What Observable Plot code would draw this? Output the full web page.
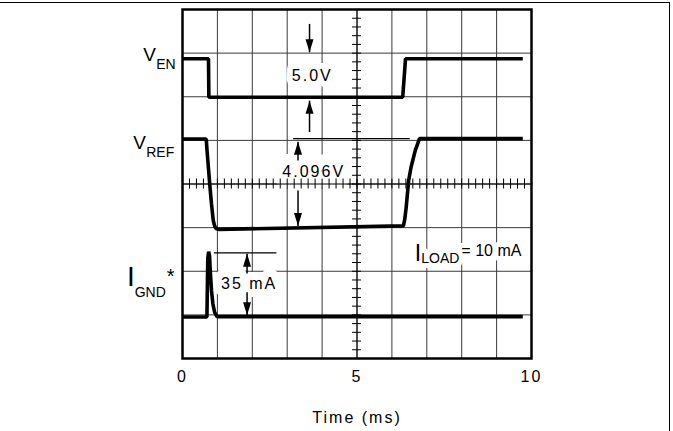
<!DOCTYPE html>
<html>
<head>
<meta charset="utf-8">
<script src="https://cdn.jsdelivr.net/npm/d3@7"></script>
<script src="https://cdn.jsdelivr.net/npm/@observablehq/plot@0.6"></script>
<style>
  html, body { margin: 0; padding: 0; background: #fff; overflow: hidden; }
  #wrap { position: relative; width: 673px; height: 431px; overflow: hidden; }
  #chart { position: absolute; left: 0; top: 0; z-index: 1; }
  #border { position: absolute; left: -5px; top: 2px; width: 674px; height: 500px; z-index: 2;
            border-top: 1px solid #000; border-right: 1px solid #000; pointer-events: none; }
</style>
</head>
<body>
<div id="wrap"><div id="chart"></div><div id="border"></div></div>
<script>
// ---- axis / graticule ----
const xTicks = [0, 5, 10];
const xGrid = [0, 1, 2, 3, 4, 5, 6, 7, 8, 9, 10];
const yGrid = [0, 1, 2, 3, 4, 5, 6, 7, 8];      // screen divisions, bottom = 0
const xLabel = "Time (ms)";

// ---- traces (time in ms, level in screen divisions) ----
const enTime  = [0, 0.745, 0.755, 6.31, 6.39, 9.75];
const enLevel = [6.87, 6.87, 5.99, 5.99, 6.87, 6.87];

const refTime  = [0, 0.68, 0.70, 0.74, 0.78, 0.83, 0.88, 0.92, 0.96, 1.04, 6.33, 6.37, 6.41, 6.48, 6.55, 6.67, 6.79, 9.75];
const refLevel = [5.03, 5.03, 4.8, 4.4, 4.0, 3.55, 3.17, 3.04, 2.98, 2.96, 3.04, 3.2, 3.47, 4.08, 4.39, 4.77, 5.04, 5.04];

const gndTime  = [0, 0.70, 0.715, 0.725, 0.75, 0.775, 0.80, 0.83, 0.87, 0.92, 0.99, 9.75];
const gndLevel = [0.95, 0.95, 1.8, 2.3, 2.45, 2.35, 1.95, 1.56, 1.26, 1.06, 0.96, 0.96];

// ---- trace labels ----
const mainLabel = ["V", "V", "I"];
const subLabel  = ["EN", "REF", "GND"];
const mainX = [-0.76, -1.05, -1.37];
const subX  = [-0.755, -1.04, -1.37];
const mainY = [6.83, 4.81, 1.67];
const subY  = [6.64, 4.61, 1.41];
const starText = ["*"];
const starX = [-0.34];
const starY = [1.74];

// ---- annotations ----
const noteText = ["5.0V", "4.096V", "35 mA"];
const noteX = [3.72, 3.76, 1.91];
const noteY = [6.37, 4.15, 1.60];

const arrowX    = [3.64, 3.64, 3.31, 3.31, 1.85, 1.85];
const arrowTail = [7.67, 5.19, 4.54, 3.85, 1.95, 1.52];
const arrowTip  = [7.02, 5.91, 4.97, 3.04, 2.40, 0.99];

const refLineX1 = [3.17, 0.90];
const refLineX2 = [6.51, 2.69];
const refLineY  = [5.04, 2.42];

const loadMain = ["I"];
const loadSub = ["LOAD"];
const loadRest = ["= 10 mA"];
const loadMainX = [6.84], loadMainY = [2.23];
const loadSubX = [6.84], loadSubY = [2.18];
const loadRestX = [7.99], loadRestY = [2.34];

// ---- helpers ----
const xMinor = d3.range(0, 50.5, 1).map(k => k / 5);
const yMinor = d3.range(0, 40.5, 1).map(k => k / 5);
const tightTexts = new Set([...mainLabel, ...subLabel, ...starText, ...loadMain, ...loadSub, ...loadRest]);

const headSymbol = {
  draw(ctx) {           // narrow filled arrowhead, tip at the origin, pointing up
    ctx.moveTo(0, 0);
    ctx.lineTo(-4, 13);
    ctx.lineTo(4, 13);
    ctx.closePath();
  }
};

const trace = (xs, ys) => Plot.line(xs, {
  x: d => d, y: (d, i) => ys[i],
  stroke: "black", strokeWidth: 3.6, strokeLinejoin: "miter", strokeLinecap: "butt"
});

const halo = {stroke: "white", strokeLinejoin: "round", paintOrder: "stroke", fill: "black"};

const chart = Plot.plot({
  width: 673,
  height: 431,
  marginLeft: 182,
  marginRight: 142,
  marginTop: 9,
  marginBottom: 73,
  x: {domain: [0, 10], axis: null},
  y: {domain: [0, 8], axis: null},
  style: {
    fontFamily: '"Liberation Sans", Arial, Helvetica, sans-serif',
    fontSize: "16px",
    color: "black",
    background: "white",
    overflow: "visible",
    letterSpacing: "2px"
  },
  marks: [
    // graticule
    Plot.ruleX(xGrid, {stroke: "#3a3a3a", strokeWidth: 1}),
    Plot.ruleY(yGrid, {stroke: "#3a3a3a", strokeWidth: 1}),

    // annotation texts with white boxes behind
    Plot.text(noteText, {
      x: (d, i) => noteX[i], y: (d, i) => noteY[i], text: d => d,
      lineAnchor: "bottom", textAnchor: "middle", fontSize: 16,
      strokeWidth: (d, i) => [12, 22, 16][i], ...halo
    }),
    Plot.text(loadRest, {
      x: loadRestX, y: loadRestY, text: d => d, lineAnchor: "bottom", textAnchor: "start",
      fontSize: 16, strokeWidth: 10, ...halo
    }),
    Plot.text(loadSub, {
      x: loadSubX, y: loadSubY, text: d => d, lineAnchor: "bottom", textAnchor: "start",
      fontSize: 14, strokeWidth: 10, ...halo
    }),
    Plot.text(loadMain, {
      x: loadMainX, y: loadMainY, text: d => d, lineAnchor: "bottom", textAnchor: "end",
      fontSize: 23, fill: "black"
    }),

    // centre crosshair with minor ticks
    Plot.ruleX([5], {stroke: "black", strokeWidth: 1}),
    Plot.ruleY([4], {stroke: "black", strokeWidth: 1}),
    Plot.ruleX(xMinor, {x: d => d, y1: 4, y2: 4, insetTop: -5, insetBottom: -5, stroke: "black"}),
    Plot.ruleY(yMinor, {y: d => d, x1: 5, x2: 5, insetLeft: -4.5, insetRight: -4.5, stroke: "black"}),

    Plot.frame({stroke: "black", strokeWidth: 2.5}),

    // reference level lines and arrows
    Plot.link(refLineY, {
      x1: (d, i) => refLineX1[i], x2: (d, i) => refLineX2[i], y1: d => d, y2: d => d,
      stroke: "black", strokeWidth: 1.2
    }),
    Plot.link(arrowX, {
      x1: d => d, x2: d => d, y1: (d, i) => arrowTail[i], y2: (d, i) => arrowTip[i],
      stroke: "black", strokeWidth: 1.5
    }),
    Plot.dot(arrowX, {
      x: d => d, y: (d, i) => arrowTip[i], symbol: headSymbol,
      rotate: (d, i) => arrowTip[i] > arrowTail[i] ? 0 : 180,
      fill: "black", stroke: "none", r: 5
    }),

    // traces
    trace(enTime, enLevel),
    trace(refTime, refLevel),
    trace(gndTime, gndLevel),

    // trace labels
    Plot.text(mainLabel, {
      x: mainX, y: mainY, text: d => d, lineAnchor: "bottom", textAnchor: "end",
      fontSize: d => d === "I" ? 28 : 19, fill: "black"
    }),
    Plot.text(subLabel, {
      x: subX, y: subY, text: d => d, lineAnchor: "bottom", textAnchor: "start",
      fontSize: 14, fill: "black"
    }),
    Plot.text(starText, {
      x: starX, y: starY, text: d => d, lineAnchor: "bottom", textAnchor: "middle",
      fontSize: 20, fill: "black"
    }),

    // x axis
    Plot.axisX({ticks: xTicks, tickSize: 0, tickPadding: 12.5, label: null, fontSize: 16, tickFormat: d => String(d)}),
    Plot.text([xLabel], {frameAnchor: "bottom", dy: 64, lineAnchor: "bottom", fontSize: 16, fill: "black"})
  ]
});

// labels with subscripts are set without extra tracking
d3.select(chart).selectAll("text")
  .filter(function() { return tightTexts.has(this.textContent); })
  .style("letter-spacing", "0px");

document.getElementById("chart").appendChild(chart);
</script>
</body>
</html>
